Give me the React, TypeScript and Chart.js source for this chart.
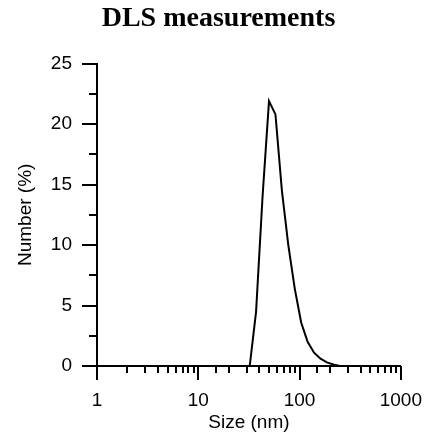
import React, { useEffect, useRef } from "react";
import { Chart, registerables } from "chart.js";

Chart.register(...registerables);

const sizesNm = [32.2, 37.2, 43.1, 49.9, 57.8, 66.9, 77.4, 89.6, 103.7, 120, 139, 160.9, 186, 215.5, 249];
const numberPct = [0, 4.5, 14.0, 21.9, 20.8, 14.5, 10.0, 6.4, 3.6, 2.0, 1.1, 0.6, 0.3, 0.12, 0];
const yTickStep = 2.5;
const yLabelStep = 5;

const tickPlugin = {
  id: "customTicks",
  afterDraw(chart: any) {
    const ctx = chart.ctx;
    const xs = chart.scales.x;
    const ys = chart.scales.y;
    const { left, bottom } = chart.chartArea;
    ctx.save();
    ctx.strokeStyle = "#000";
    ctx.lineWidth = 2;
    ctx.lineCap = "butt";
    xs.ticks.forEach((t: any) => {
      const px = Math.round(xs.getPixelForValue(t.value));
      const lg = Math.log10(t.value);
      const major = Math.abs(lg - Math.round(lg)) < 1e-9;
      const len = major ? 14 : 7;
      ctx.beginPath();
      ctx.moveTo(px, bottom);
      ctx.lineTo(px, bottom + len);
      ctx.stroke();
    });
    ys.ticks.forEach((t: any) => {
      const py = Math.round(ys.getPixelForValue(t.value));
      const major = Math.abs(t.value % yLabelStep) < 1e-9;
      const len = major ? 15 : 8;
      ctx.beginPath();
      ctx.moveTo(left, py);
      ctx.lineTo(left - len, py);
      ctx.stroke();
    });
    ctx.restore();
  },
};

export default function App() {
  const ref = useRef<HTMLCanvasElement | null>(null);
  useEffect(() => {
    if (!ref.current) return;
    const chart = new Chart(ref.current, {
      type: "line",
      data: {
        datasets: [
          {
            data: sizesNm.map((s, i) => ({ x: s, y: numberPct[i] })),
            borderColor: "#000",
            borderWidth: 2,
            pointRadius: 0,
            tension: 0,
            fill: false,
          },
        ],
      },
      options: {
        responsive: false,
        animation: false,
        devicePixelRatio: 1,
        layout: { padding: { left: 12, right: 0, top: 0, bottom: 0 } },
        plugins: {
          legend: { display: false },
          tooltip: { enabled: false },
          title: {
            display: true,
            text: "DLS measurements",
            color: "#000",
            font: { family: "'Liberation Serif', serif", size: 28, weight: "bold", lineHeight: 1.2 },
            padding: { top: 2, bottom: 28 },
          },
        },
        scales: {
          x: {
            type: "logarithmic",
            min: 1,
            max: 1000,
            grid: { display: true, drawOnChartArea: false, drawTicks: true, tickLength: 20, tickColor: "rgba(0,0,0,0)" },
            border: { display: true, color: "#000", width: 2 },
            ticks: {
              autoSkip: false,
              maxRotation: 0,
              minRotation: 0,
              padding: 3,
              color: "#000",
              font: { family: "'Liberation Sans', Arial, sans-serif", size: 19 },
              callback: (v: any) => {
                const lg = Math.log10(Number(v));
                return Math.abs(lg - Math.round(lg)) < 1e-9 ? String(v) : "";
              },
            },
            title: {
              display: true,
              text: "Size (nm)",
              color: "#000",
              font: { family: "'Liberation Sans', Arial, sans-serif", size: 19, lineHeight: 1.2 },
              padding: { top: 0, bottom: 4 },
            },
            afterFit: (s: any) => {
              s.height = 72;
            },
          },
          y: {
            type: "linear",
            min: 0,
            max: 25,
            grid: { display: true, drawOnChartArea: false, drawTicks: true, tickLength: 15, tickColor: "rgba(0,0,0,0)" },
            border: { display: true, color: "#000", width: 2 },
            ticks: {
              stepSize: yTickStep,
              autoSkip: false,
              padding: 10,
              color: "#000",
              font: { family: "'Liberation Sans', Arial, sans-serif", size: 19 },
              callback: (v: any) => (Math.abs(Number(v) % yLabelStep) < 1e-9 ? String(v) : ""),
            },
            title: {
              display: true,
              text: "Number (%)",
              color: "#000",
              font: { family: "'Liberation Sans', Arial, sans-serif", size: 19, lineHeight: 1.2 },
              padding: { top: 2, bottom: 0 },
            },
            afterFit: (s: any) => {
              s.width = 85;
            },
          },
        },
      },
      plugins: [tickPlugin],
    } as any);
    return () => chart.destroy();
  }, []);
  return (
    <div style={{ position: "absolute", left: 0, top: 0, width: 425, height: 438, background: "#fff" }}>
      <canvas ref={ref} width={425} height={438} />
    </div>
  );
}
